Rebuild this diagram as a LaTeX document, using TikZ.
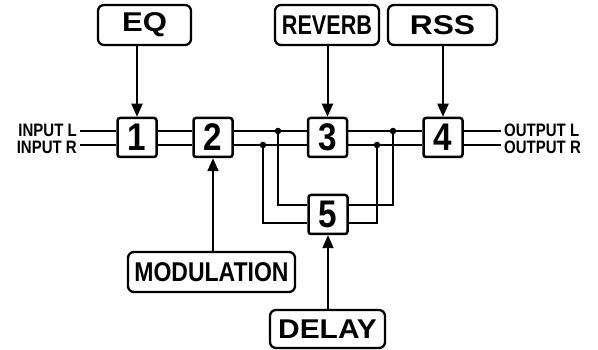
\documentclass[tikz,border=0pt]{standalone}
\usepackage{fontspec}
\setmainfont{Liberation Sans}
\usetikzlibrary{arrows.meta}
\begin{document}
\begin{tikzpicture}[x=1pt,y=-1pt,
  fxbox/.style={draw,line width=2.3pt,rounded corners=6pt,inner sep=0pt,minimum height=40pt,
     font=\fontsize{23}{23}\selectfont\bfseries},
  numbox/.style={draw,line width=2.5pt,rounded corners=2.5pt,inner sep=0pt,minimum width=39pt,minimum height=39pt,
     font=\fontsize{35}{35}\selectfont\bfseries},
  iolabel/.style={inner sep=0pt,font=\fontsize{15}{15}\selectfont\bfseries},
  sig/.style={line width=2pt},
  arr/.style={line width=2pt,-{Triangle[length=13pt,width=11pt]}},
  dot/.style={circle,fill,inner sep=0pt,minimum size=6.5pt}]
\useasboundingbox (0,0) rectangle (598,350);

% effect boxes
\node[fxbox,minimum width=93pt]  (eq)  at (144.5,25) {\scalebox{1.35}[1.18]{EQ}};
\node[fxbox,minimum width=104pt] (rev) at (327,25)   {\scalebox{0.94}[1.18]{REVERB}};
\node[fxbox,minimum width=109pt] (rss) at (442.5,25) {\scalebox{1.38}[1.18]{RSS}};
\node[fxbox,minimum width=167pt] (mod) at (211.5,272) {\scalebox{1}[1.18]{MODULATION}};
\node[fxbox,minimum width=115pt,minimum height=38pt] (del) at (327.5,329) {\scalebox{1.3}[1.18]{DELAY}};

% numbered blocks
\node[numbox] (b1) at (137,137.5) {\scalebox{0.95}[1.1]{1}};
\node[numbox] (b2) at (213,137.5) {\scalebox{0.95}[1.1]{2}};
\node[numbox] (b3) at (327.5,137.5) {\scalebox{0.95}[1.1]{3}};
\node[numbox] (b4) at (443,137.5) {\scalebox{0.95}[1.1]{4}};
\node[numbox] (b5) at (328,214.5) {\scalebox{0.95}[1.1]{5}};

% io labels
\node[iolabel,anchor=east] (inl)  at (77,130) {\scalebox{1}[1.2]{INPUT L}};
\node[iolabel,anchor=east] (inr)  at (77,147) {\scalebox{1}[1.2]{INPUT R}};
\node[iolabel,anchor=west] (outl) at (504,130) {\scalebox{1}[1.2]{OUTPUT L}};
\node[iolabel,anchor=west] (outr) at (504,147) {\scalebox{1}[1.2]{OUTPUT R}};

% track coordinates
\coordinate (inLend)  at (80,131);
\coordinate (inRend)  at (80,145);
\coordinate (outLend) at (501,131);
\coordinate (outRend) at (501,145);
\coordinate (dL1) at (278,131);
\coordinate (dR1) at (263,145);
\coordinate (dL2) at (393,131);
\coordinate (dR2) at (377,145);

% main tracks
\foreach \t in {inLend,inRend}{
  \draw[sig] (\t) -- (\t -| b1.west);
  \draw[sig] (\t -| b1.east) -- (\t -| b2.west);
  \draw[sig] (\t -| b2.east) -- (\t -| b3.west);
  \draw[sig] (\t -| b3.east) -- (\t -| b4.west);
  \draw[sig] (\t -| b4.east) -- (\t -| outLend);
}

% delay loop
\draw[sig] (dL1) |- ([yshift=9pt]b5.west);
\draw[sig] (dR1) |- ([yshift=-9pt]b5.west);
\draw[sig] (dL2) |- ([yshift=9pt]b5.east);
\draw[sig] (dR2) |- ([yshift=-9pt]b5.east);
\node[dot] at (dL1) {};
\node[dot] at (dR1) {};
\node[dot] at (dL2) {};
\node[dot] at (dR2) {};

% control arrows
\draw[arr] (eq.south -| b1) -- (b1.north);
\draw[arr] (rev.south -| b3) -- (b3.north);
\draw[arr] (rss.south -| b4) -- (b4.north);
\draw[arr] (mod.north -| b2) -- (b2.south);
\draw[arr] (del.north -| b5) -- (b5.south);
\end{tikzpicture}
\end{document}
